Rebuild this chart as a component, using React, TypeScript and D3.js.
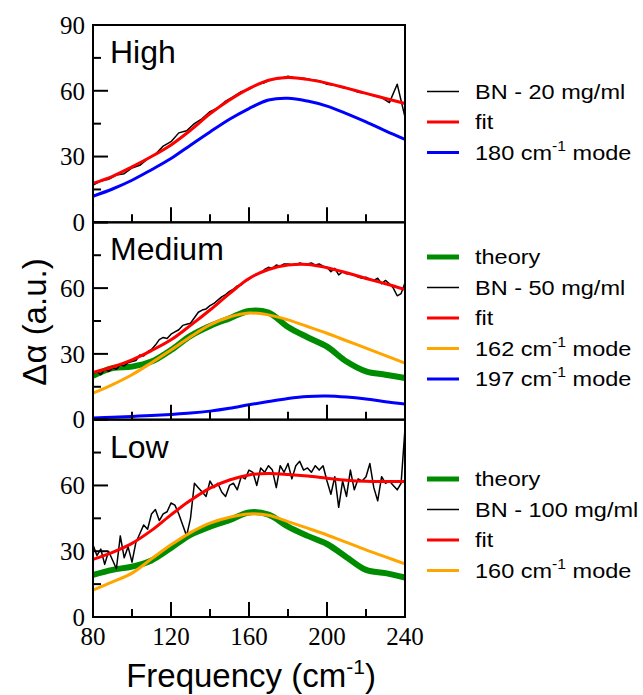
import * as d3 from 'd3';

// smooth curves are sampled every 10 cm-1
const fitFreq = [80, 90, 100, 110, 120, 130, 140, 150, 160, 170, 180, 190, 200, 210, 220, 230, 240];

// High (20 mg/ml)
const highFit = [17.8, 21, 25.3, 30, 35.3, 42, 49.5, 55.8, 61, 64.8, 66, 65.2, 63.5, 61.2, 58.8, 56.5, 54.2];
const highMode180 = [11.9, 15.2, 19.2, 24, 29.1, 35.2, 41.2, 47, 51.9, 55.8, 56.6, 55.3, 53, 49.6, 45.8, 41.7, 37.8];
const highDataFreq = [80, 84, 88, 92, 96, 100, 104, 108, 112, 116, 120, 124, 128, 132, 136, 140, 144, 148, 152, 156,
  160, 164, 168, 172, 176, 180, 184, 188, 192, 196, 200, 204, 208, 212, 216, 220, 224, 228, 232, 236, 240];
const highData = [17, 18.8, 19.6, 21.6, 22.2, 24.8, 26, 28.9, 31, 34.8, 36.8, 40.8, 41.8, 45, 47.3, 50.5, 52.2, 55.3, 57.3, 59.6,
  60.7, 62.8, 63.7, 65.3, 65.6, 66.6, 65.8, 65.7, 65, 64.6, 63, 62.5, 61.5, 60.9, 59.3, 58.9, 57.7, 56.9, 54.6, 63, 48];

// Medium (50 mg/ml)
const medTheory = [20, 23.5, 24.2, 26.5, 31.8, 38.2, 42.7, 46.2, 49.6, 48.8, 42.3, 37.6, 33.3, 26.5, 22, 20.5, 19];
const medFit = [21.5, 24, 27.3, 31.5, 36.4, 43, 50, 57.5, 64.4, 68.5, 70.5, 70.8, 69.3, 67, 64.4, 62, 59.4];
const medMode162 = [12.1, 16, 20.5, 26, 31.8, 37.8, 43.2, 46.8, 48.6, 47.8, 45.5, 42.5, 39.4, 36, 32.6, 29.2, 25.8];
const medMode197 = [0.8, 1.1, 1.5, 1.9, 2.4, 3, 3.9, 5.2, 6.8, 8.3, 9.7, 10.6, 10.8, 10.3, 9.4, 8.2, 7.1];

// noisy spectra are sampled every 2 cm-1
const dataFreq = d3.range(80, 241, 2);
const medData = [21, 22, 20.5, 23, 22, 23.5, 23, 25, 24.5, 26, 26.5, 27, 29.5, 29, 31, 32, 34, 36.5, 37.5, 37,
  39, 40, 41, 43, 43.5, 44, 46.5, 49, 50, 50.5, 52, 53, 54.5, 56, 57, 58.5, 59.5, 61, 61.5, 63,
  64, 65.5, 66.5, 67, 68.5, 69.5, 69, 70.5, 70, 71, 71, 70.5, 70.5, 71.5, 71, 71, 71.5, 70.5, 71, 70,
  69.5, 67.5, 69, 66, 67.5, 66.5, 66.5, 66, 65, 64.5, 65, 64, 63.5, 64.5, 62, 63.5, 62, 60, 56.5, 57.5, 62.5];

// Low (100 mg/ml)
const lowTheory = [19.2, 21.5, 23, 25.8, 31.5, 37.5, 41.2, 44.2, 47.7, 46.7, 41.2, 37, 33.3, 27.3, 21.5, 20, 18];
const lowFit = [26.3, 29.5, 33.6, 39.5, 46.6, 53.2, 58.8, 62.5, 64.8, 65.4, 65, 64.3, 63.3, 62.4, 61.9, 61.8, 61.8];
const lowMode160 = [12.3, 16, 20, 26.5, 32.9, 38.5, 42.8, 45.5, 47, 46.4, 43.5, 40.5, 37.4, 34, 30.6, 27.4, 24.2];
const lowData = [33, 28, 31, 24, 30, 26, 22, 37, 27, 32, 25, 34, 38, 42, 40, 47, 49, 44, 47, 48,
  52, 51, 47, 42, 37, 45, 61, 59, 57, 55, 62, 59, 61, 57, 55, 60, 61, 58, 64, 63,
  67, 66, 60, 68, 66, 69, 67, 59, 69, 66, 70, 63, 69, 71, 67, 68, 66, 69, 67, 69,
  62, 56, 64, 50, 62, 55, 67, 58, 63, 62, 64, 70, 59, 53, 64, 61, 62, 60, 58, 61, 86];

const yTicksMajor = [0, 30, 60, 90];
const yTicksMinor = [15, 45, 75];
const xTicksMajor = [80, 120, 160, 200, 240];
const xTicksMinor = [100, 140, 180, 220];

const colors = { data: '#000000', fit: '#ff0000', blue: '#0000ff', theory: '#008c00', orange: '#ffa500' };
const widths = { data: 1.5, fit: 3, blue: 3, theory: 6, orange: 3 };

type Series = { label: string; mode?: string; kind: keyof typeof colors; x: number[]; y: number[] };

const panels: { name: string; series: Series[] }[] = [
  {
    name: 'High',
    series: [
      { label: 'BN - 20 mg/ml', kind: 'data', x: highDataFreq, y: highData },
      { label: 'fit', kind: 'fit', x: fitFreq, y: highFit },
      { label: '180 cm', mode: ' mode', kind: 'blue', x: fitFreq, y: highMode180 },
    ],
  },
  {
    name: 'Medium',
    series: [
      { label: 'theory', kind: 'theory', x: fitFreq, y: medTheory },
      { label: 'BN - 50 mg/ml', kind: 'data', x: dataFreq, y: medData },
      { label: 'fit', kind: 'fit', x: fitFreq, y: medFit },
      { label: '162 cm', mode: ' mode', kind: 'orange', x: fitFreq, y: medMode162 },
      { label: '197 cm', mode: ' mode', kind: 'blue', x: fitFreq, y: medMode197 },
    ],
  },
  {
    name: 'Low',
    series: [
      { label: 'theory', kind: 'theory', x: fitFreq, y: lowTheory },
      { label: 'BN - 100 mg/ml', kind: 'data', x: dataFreq, y: lowData },
      { label: 'fit', kind: 'fit', x: fitFreq, y: lowFit },
      { label: '160 cm', mode: ' mode', kind: 'orange', x: fitFreq, y: lowMode160 },
    ],
  },
];

const W = 643;
const H = 695;
const left = 93;
const right = 405;
const top = 25;
const bottom = 617;
const panelH = (bottom - top) / 3;
const legendTop = [91.5, 257, 479];
const legendStep = 30.5;

const sans = '"Liberation Sans", Arial, sans-serif';
const serif = '"Liberation Serif", "Times New Roman", serif';

export default function App() {
  const x = d3.scaleLinear().domain([80, 240]).range([left, right]);

  return (
    <svg width={W} height={H} style={{ position: 'absolute', left: 0, top: 0, background: '#fff' }}>
      {panels.map((p, i) => {
        const y0 = top + i * panelH;
        const y = d3.scaleLinear().domain([0, 90]).range([y0 + panelH, y0]);
        const labels = i === 0 ? yTicksMajor : yTicksMajor.slice(0, 3);
        return (
          <g key={p.name}>
            {p.series.map((s) => {
              const line = d3
                .line<number>()
                .x((_, k) => x(s.x[k]))
                .y((v) => y(v))
                .curve(s.kind === 'data' ? d3.curveLinear : d3.curveCatmullRom.alpha(0.5));
              return (
                <path
                  key={s.label}
                  d={line(s.y) || ''}
                  fill="none"
                  stroke={colors[s.kind]}
                  strokeWidth={widths[s.kind]}
                  strokeLinejoin="round"
                />
              );
            })}
            <rect x={left} y={y0} width={right - left} height={panelH} fill="none" stroke="#000" strokeWidth={2} />
            {yTicksMajor.map((t) => (
              <line key={'ym' + t} x1={left} x2={left + 15} y1={y(t)} y2={y(t)} stroke="#000" strokeWidth={2} />
            ))}
            {yTicksMinor.map((t) => (
              <line key={'yn' + t} x1={left} x2={left + 8} y1={y(t)} y2={y(t)} stroke="#000" strokeWidth={2} />
            ))}
            {xTicksMajor.map((t) => (
              <line key={'xm' + t} x1={x(t)} x2={x(t)} y1={y0 + panelH} y2={y0 + panelH - 15} stroke="#000" strokeWidth={2} />
            ))}
            {xTicksMinor.map((t) => (
              <line key={'xn' + t} x1={x(t)} x2={x(t)} y1={y0 + panelH} y2={y0 + panelH - 8} stroke="#000" strokeWidth={2} />
            ))}
            {labels.map((t) => (
              <text key={'yl' + t} x={85} y={y(t)} dy="0.35em" textAnchor="end" fontFamily={serif} fontSize={25}>
                {t}
              </text>
            ))}
            <text x={110} y={y0 + 38} fontFamily={sans} fontSize={32}>
              {p.name}
            </text>
            {p.series.map((s, k) => {
              const ly = legendTop[i] + k * legendStep;
              return (
                <g key={'lg' + s.label}>
                  <line x1={427} x2={459} y1={ly} y2={ly} stroke={colors[s.kind]} strokeWidth={s.kind === 'theory' ? 5 : widths[s.kind]} />
                  <text transform={`translate(475,${ly + 7}) scale(1.12,1)`} fontFamily={sans} fontSize={21}>
                    {s.label}
                    {s.mode && (
                      <>
                        <tspan dy={-9} fontSize={14}>-1</tspan>
                        <tspan dy={9}>{s.mode}</tspan>
                      </>
                    )}
                  </text>
                </g>
              );
            })}
          </g>
        );
      })}
      {xTicksMajor.map((t) => (
        <text key={'xl' + t} x={x(t)} y={645} textAnchor="middle" fontFamily={serif} fontSize={25}>
          {t}
        </text>
      ))}
      <text x={251} y={687} textAnchor="middle" fontFamily={sans} fontSize={33}>
        Frequency (cm<tspan dy={-13} fontSize={21}>-1</tspan>
        <tspan dy={13}>)</tspan>
      </text>
      <text transform="translate(46,322) rotate(-90)" textAnchor="middle" fontFamily={sans} fontSize={33}>
        Δα (a.u.)
      </text>
    </svg>
  );
}
